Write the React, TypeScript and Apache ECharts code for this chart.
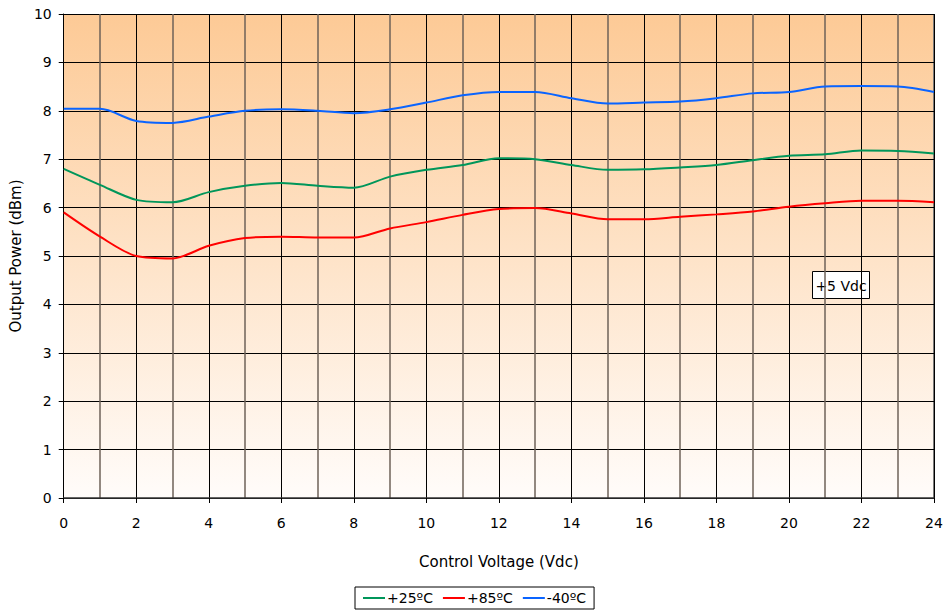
import React, { useEffect, useRef } from "react";
import * as echarts from "echarts";

const xValues = [0, 1, 2, 3, 4, 5, 6, 7, 8, 9, 10, 11, 12, 13, 14, 15, 16, 17, 18, 19, 20, 21, 22, 23, 24];
const s25 = [6.8, 6.47, 6.16, 6.11, 6.32, 6.45, 6.51, 6.45, 6.41, 6.64, 6.78, 6.88, 7.02, 7.0, 6.88, 6.78, 6.79, 6.83, 6.88, 6.98, 7.07, 7.1, 7.18, 7.17, 7.12];
const s85 = [5.9, 5.4, 5.0, 4.95, 5.21, 5.37, 5.4, 5.38, 5.38, 5.57, 5.7, 5.85, 5.97, 5.99, 5.88, 5.76, 5.76, 5.81, 5.86, 5.92, 6.02, 6.09, 6.14, 6.14, 6.11];
const sm40 = [8.04, 8.04, 7.79, 7.75, 7.88, 8.0, 8.03, 8.0, 7.95, 8.03, 8.17, 8.32, 8.39, 8.39, 8.26, 8.15, 8.17, 8.19, 8.26, 8.36, 8.39, 8.5, 8.51, 8.5, 8.39];
const seriesNames = ["+25ºC", "+85ºC", "-40ºC"];
const seriesColors = ["#00965A", "#FF0000", "#0A64FF"];
const annotation = "+5 Vdc";

const FONT = "DejaVu Sans";

export default function App() {
  const ref = useRef<HTMLDivElement>(null);
  useEffect(() => {
    if (!ref.current) return;
    const chart = echarts.init(ref.current, null, { renderer: "svg" });
    const datasets = [s25, s85, sm40];
    chart.setOption({
      animation: false,
      textStyle: { fontFamily: FONT },
      grid: {
        left: 61,
        right: 12,
        top: 14,
        bottom: 114,
        show: true,
        borderWidth: 0,
        backgroundColor: new echarts.graphic.LinearGradient(0, 0, 0, 1, [
          { offset: 0, color: "#FDCA96" },
          { offset: 1, color: "#FFFCFA" },
        ]),
      },
      legend: {
        data: seriesNames,
        left: 355,
        top: 587,
        icon: "rect",
        itemWidth: 22,
        itemHeight: 2,
        itemGap: 10,
        borderColor: "#000",
        borderWidth: 1,
        padding: [4, 8, 4, 8],
        textStyle: { fontFamily: FONT, fontSize: 14, color: "#000", padding: [0, 0, 0, -3] },
      },
      xAxis: {
        type: "value",
        min: 0,
        max: 24,
        interval: 2,
        name: "Control Voltage (Vdc)",
        nameLocation: "middle",
        nameGap: 56,
        nameTextStyle: { fontFamily: FONT, fontSize: 15, color: "#000" },
        axisLine: { show: true, lineStyle: { color: "#333", width: 1.5 } },
        axisTick: { show: true, length: 5, lineStyle: { color: "#000" } },
        axisLabel: { fontFamily: FONT, fontSize: 14, color: "#000", margin: 18 },
        splitLine: { show: true, lineStyle: { color: "#000", width: 1 } },
        minorTick: { show: false, splitNumber: 2 },
        minorSplitLine: { show: true, lineStyle: { color: "#6E6259", width: 1.5 } },
      },
      yAxis: {
        type: "value",
        min: 0,
        max: 10,
        interval: 1,
        name: "Output Power (dBm)",
        nameLocation: "middle",
        nameGap: 39,
        nameTextStyle: { fontFamily: FONT, fontSize: 15, color: "#000" },
        axisLine: { show: true, lineStyle: { color: "#000", width: 1 } },
        axisTick: { show: true, length: 5, lineStyle: { color: "#000" } },
        axisLabel: { fontFamily: FONT, fontSize: 14, color: "#000", margin: 12 },
        splitLine: { show: true, lineStyle: { color: "#000", width: 1 } },
      },
      series: datasets.map((d, i) => ({
        name: seriesNames[i],
        type: "line",
        smooth: 0.3,
        symbol: "none",
        data: d.map((v, j) => [xValues[j], v]),
        lineStyle: { color: seriesColors[i], width: 2 },
        itemStyle: { color: seriesColors[i] },
      })),
      graphic: [
        {
          type: "line",
          shape: { x1: 934, y1: 14, x2: 934, y2: 498 },
          style: { stroke: "#7A7A7A", lineWidth: 2 },
        },
        {
          type: "group",
          left: 812,
          top: 271,
          children: [
            {
              type: "rect",
              shape: { x: 0, y: 0, width: 57, height: 27 },
              style: { fill: "#fff", stroke: "#000", lineWidth: 1 },
            },
            {
              type: "text",
              x: 28.5,
              y: 14,
              style: {
                text: annotation,
                fontFamily: FONT,
                fontSize: 14,
                fill: "#000",
                align: "center",
                verticalAlign: "middle",
              },
            },
          ],
        },
      ],
    });
    return () => chart.dispose();
  }, []);
  return <div ref={ref} style={{ width: 946, height: 612, position: "absolute", left: 0, top: 0 }} />;
}
